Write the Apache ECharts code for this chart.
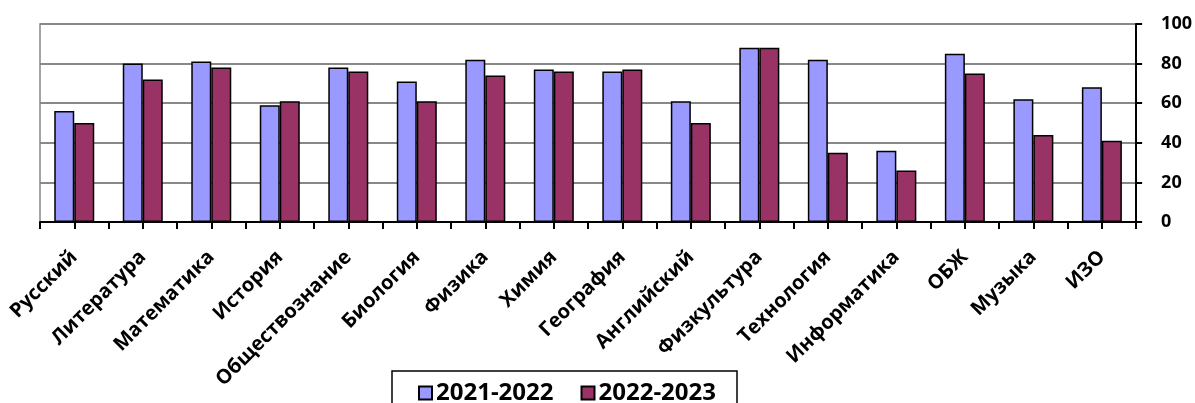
<!DOCTYPE html>
<html><head><meta charset="utf-8">
<script src="https://cdn.jsdelivr.net/npm/echarts@6/dist/echarts.min.js"></script>
<style>html,body{margin:0;padding:0;background:#fff}#c{width:1195px;height:403px}</style>
</head><body><div id="c"></div>
<script>
var categories = ['Русский','Литература','Математика','История','Обществознание','Биология','Физика','Химия','География','Английский','Физкультура','Технология','Информатика','ОБЖ','Музыка','ИЗО'];
var series2122 = [56,80,81,59,78,71,82,77,76,61,88,82,36,85,62,68];
var series2223 = [50,72,78,61,76,61,74,76,77,50,88,35,26,75,44,41];
var seriesNames = ['2021-2022','2022-2023'];
var yTicks = [0,20,40,60,80,100];

var halfTicks = [];
for (var i = 0; i < categories.length * 2; i++) halfTicks.push('');

var FONT = '"Open Sans", sans-serif';
var chart = echarts.init(document.getElementById('c'));
chart.setOption({
  animation: false,
  grid: {left: 40, right: 57, top: 24, bottom: 181, show: true, borderColor: '#888', borderWidth: 1.5},
  legend: {
    data: seriesNames, left: 392, top: 371, width: 380,
    padding: [10, 21, 12, 26], itemGap: 27, itemWidth: 13, itemHeight: 13,
    borderColor: '#000', borderWidth: 1.5, icon: 'rect',
    textStyle: {fontFamily: FONT, fontWeight: 'bold', fontSize: 24, color: '#000', padding: [0,0,0,-1]}
  },
  xAxis: [{
    type: 'category', data: categories, position: 'bottom',
    axisLine: {show: true, lineStyle: {color: '#000', width: 2}},
    axisTick: {show: false},
    axisLabel: {rotate: 45, interval: 0, margin: 32, fontFamily: FONT, fontWeight: 'bold', fontSize: 20, color: '#000'}
  }, {
    type: 'category', data: halfTicks, position: 'bottom',
    axisLine: {show: false},
    axisTick: {show: true, length: 7, interval: 0, lineStyle: {color: '#000', width: 2}},
    axisLabel: {show: false}
  }],
  yAxis: {
    type: 'value', position: 'right', min: 0, max: 100, interval: 20,
    axisLine: {show: true, lineStyle: {color: '#000', width: 2}},
    axisTick: {show: true, length: 6, lineStyle: {color: '#000', width: 2}},
    axisLabel: {margin: 25, fontFamily: FONT, fontWeight: 'bold', fontSize: 18, color: '#000',
      formatter: function (v) { return yTicks.indexOf(v) >= 0 ? String(v) : ''; }},
    splitLine: {show: true, lineStyle: {color: '#888', width: 2}}
  },
  series: [{
    name: seriesNames[0], type: 'bar', data: series2122, xAxisIndex: 0,
    barWidth: 20, barGap: '0%',
    itemStyle: {color: '#9999FF', borderColor: '#000', borderWidth: 1.5}
  }, {
    name: seriesNames[1], type: 'bar', data: series2223, xAxisIndex: 0,
    barWidth: 20, barGap: '0%',
    itemStyle: {color: '#993366', borderColor: '#000', borderWidth: 1.5}
  }]
});
</script></body></html>
